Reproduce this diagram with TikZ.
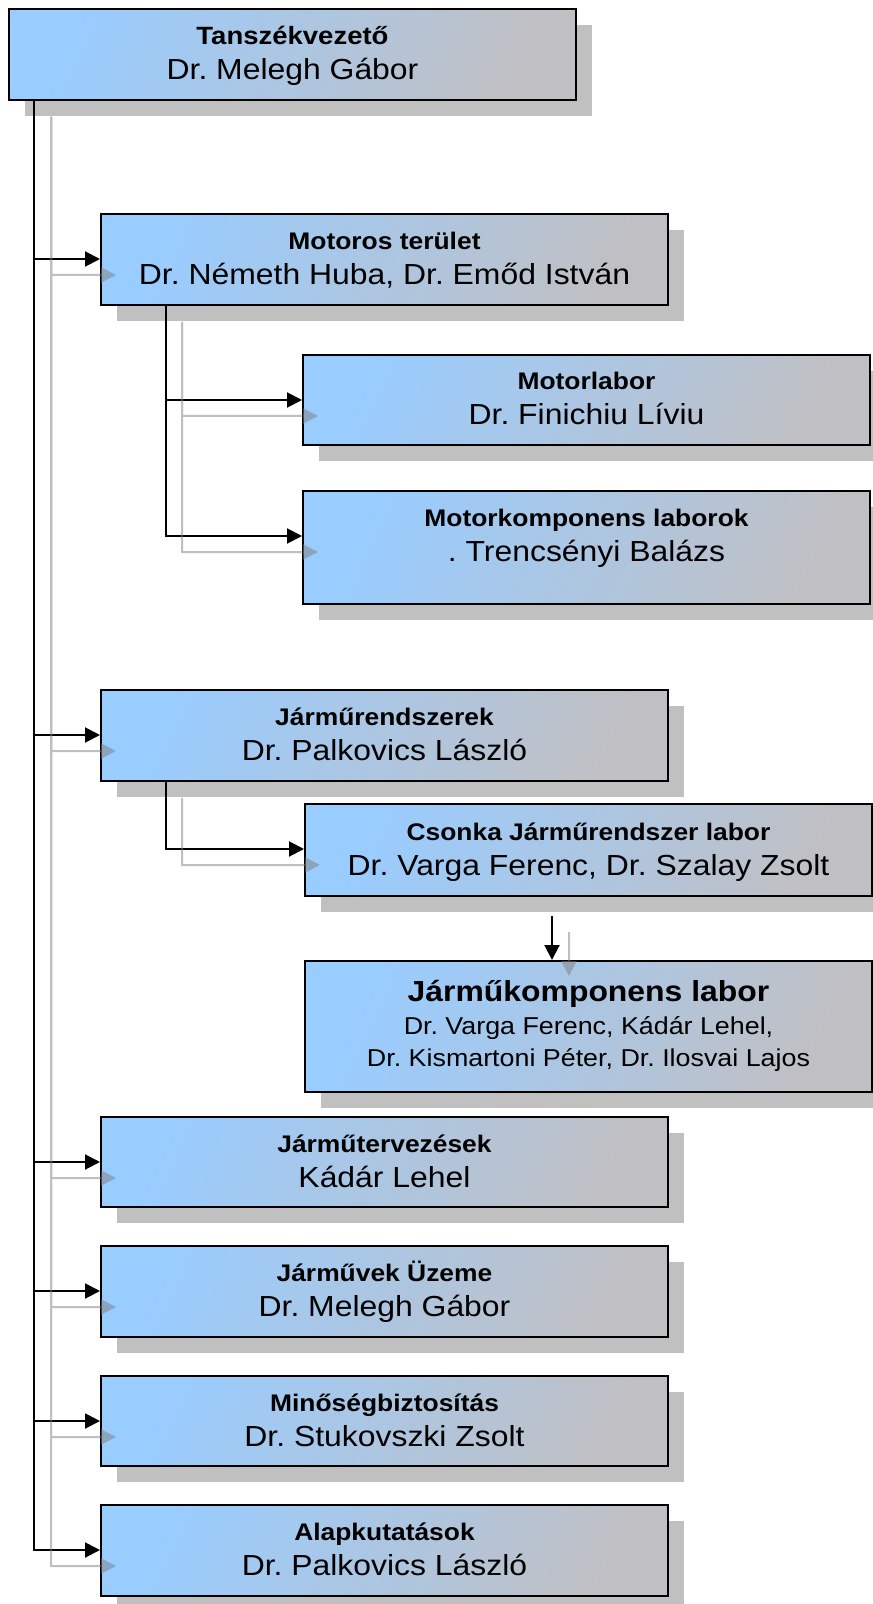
\documentclass[tikz,border=0pt]{standalone}
\usepackage{fontspec}
\setmainfont{Liberation Sans}[FakeStretch=1.1]
\frenchspacing
\definecolor{boxblue}{RGB}{153,204,255}
\definecolor{boxgray}{RGB}{192,192,196}
\definecolor{shadowgray}{RGB}{192,192,192}
\definecolor{linegray}{RGB}{128,128,128}
\usetikzlibrary{arrows.meta,shadows,positioning}
\newcommand*\namefont{\fontsize{14.5}{17.5}\selectfont}
\newcommand*\titlefont{\fontsize{12}{17.5}\selectfont\bfseries}
\newcommand*\smallnamefont{\fontsize{12.2}{16}\selectfont}
\tikzset{
	>={Triangle[length=7.5pt,width=7.5pt]},
	orgbox/.style={
		rectangle,
		draw=black, line width=1pt,
		left color=boxblue,
		right color=boxgray,
		shading angle=65,
		minimum width=283.5pt,
		minimum height=45.5pt,
		inner sep=2pt,
		align=center,
		text height=26.5pt,
		text depth=1.5pt,
		font=\namefont,
		anchor=north west,
		drop shadow={shadow xshift=8pt, shadow yshift=-8pt, fill=shadowgray, opacity=1}},
	line/.style={draw, line width=1pt, ->},
	shline/.style={draw=linegray, line width=1pt, ->},
}

\begin{document}
\begin{tikzpicture}[x=0.5pt,y=-0.5pt]
\useasboundingbox (0,0) rectangle (872,1604);
\node[orgbox] (head) at (8,8){{\titlefont\fontsize{12.5}{17.5}\selectfont Tanszékvezető}\\Dr. Melegh Gábor};
\node[orgbox] (motor) at (100,213){{\titlefont Motoros terület}\\Dr. Németh Huba, Dr. Emőd István};
\node[orgbox, minimum height=45pt] (mlab) at (302,354){{\titlefont Motorlabor}\\Dr. Finichiu Líviu};
\node[orgbox, minimum height=56.5pt, text depth=12.5pt] (mkomp) at (302,490){{\titlefont Motorkomponens laborok}\\. Trencsényi Balázs};
\node[orgbox] (jrend) at (100,689){{\titlefont Járműrendszerek}\\Dr. Palkovics László};
\node[orgbox, minimum height=46pt] (csonka) at (304,803){{\titlefont Csonka Járműrendszer labor}\\Dr. Varga Ferenc, Dr. Szalay Zsolt};
\node[orgbox, minimum height=65.5pt, text height=43.5pt, text depth=4pt, font=\smallnamefont] (jkomp) at (304,960){{\fontsize{14.5}{16}\selectfont\bfseries Járműkomponens labor}\\[0.5pt]Dr. Varga Ferenc, Kádár Lehel,\\Dr. Kismartoni Péter, Dr. Ilosvai Lajos};
\node[orgbox, minimum height=45pt] (jterv) at (100,1116){{\titlefont Járműtervezések}\\Kádár Lehel};
\node[orgbox] (juzem) at (100,1245){{\titlefont Járművek Üzeme}\\Dr. Melegh Gábor};
\node[orgbox, minimum height=45pt] (minos) at (100,1375){{\titlefont Minőségbiztosítás}\\Dr. Stukovszki Zsolt};
\node[orgbox] (alap) at (100,1504){{\titlefont Alapkutatások}\\Dr. Palkovics László};

\draw[line] ([xshift=13pt]head.south west) |- ([yshift=-23pt]motor.north west);
\draw[line] ([xshift=13pt]head.south west) |- ([yshift=-23pt]jrend.north west);
\draw[line] ([xshift=13pt]head.south west) |- ([yshift=-23pt]jterv.north west);
\draw[line] ([xshift=13pt]head.south west) |- ([yshift=-23pt]juzem.north west);
\draw[line] ([xshift=13pt]head.south west) |- ([yshift=-23pt]minos.north west);
\draw[line] ([xshift=13pt]head.south west) |- ([yshift=-23pt]alap.north west);
\draw[line] ([xshift=33pt]motor.south west) |- ([yshift=-23pt]mlab.north west);
\draw[line] ([xshift=33pt]motor.south west) |- ([yshift=-23pt]mkomp.north west);
\draw[line] ([xshift=33pt]jrend.south west) |- ([yshift=-23pt]csonka.north west);
\draw[line] ([xshift=124pt,yshift=-9.5pt]csonka.south west) -- ([xshift=124pt]jkomp.north west);

\begin{scope}[transparency group, opacity=0.5]
\draw[shline] ([xshift=21.5pt,yshift=-8pt]head.south west) |- ([xshift=8pt,yshift=-31pt]motor.north west);
\draw[shline] ([xshift=21.5pt,yshift=-8pt]head.south west) |- ([xshift=8pt,yshift=-31pt]jrend.north west);
\draw[shline] ([xshift=21.5pt,yshift=-8pt]head.south west) |- ([xshift=8pt,yshift=-31pt]jterv.north west);
\draw[shline] ([xshift=21.5pt,yshift=-8pt]head.south west) |- ([xshift=8pt,yshift=-31pt]juzem.north west);
\draw[shline] ([xshift=21.5pt,yshift=-8pt]head.south west) |- ([xshift=8pt,yshift=-31pt]minos.north west);
\draw[shline] ([xshift=21.5pt,yshift=-8pt]head.south west) |- ([xshift=8pt,yshift=-31pt]alap.north west);
\draw[shline] ([xshift=41pt,yshift=-8pt]motor.south west) |- ([xshift=8pt,yshift=-31pt]mlab.north west);
\draw[shline] ([xshift=41pt,yshift=-8pt]motor.south west) |- ([xshift=8pt,yshift=-31pt]mkomp.north west);
\draw[shline] ([xshift=41pt,yshift=-8pt]jrend.south west) |- ([xshift=8pt,yshift=-31pt]csonka.north west);
\draw[shline] ([xshift=132.5pt,yshift=-17.5pt]csonka.south west) -- ([xshift=132.5pt,yshift=-8pt]jkomp.north west);
\end{scope}
\end{tikzpicture}
\end{document}
